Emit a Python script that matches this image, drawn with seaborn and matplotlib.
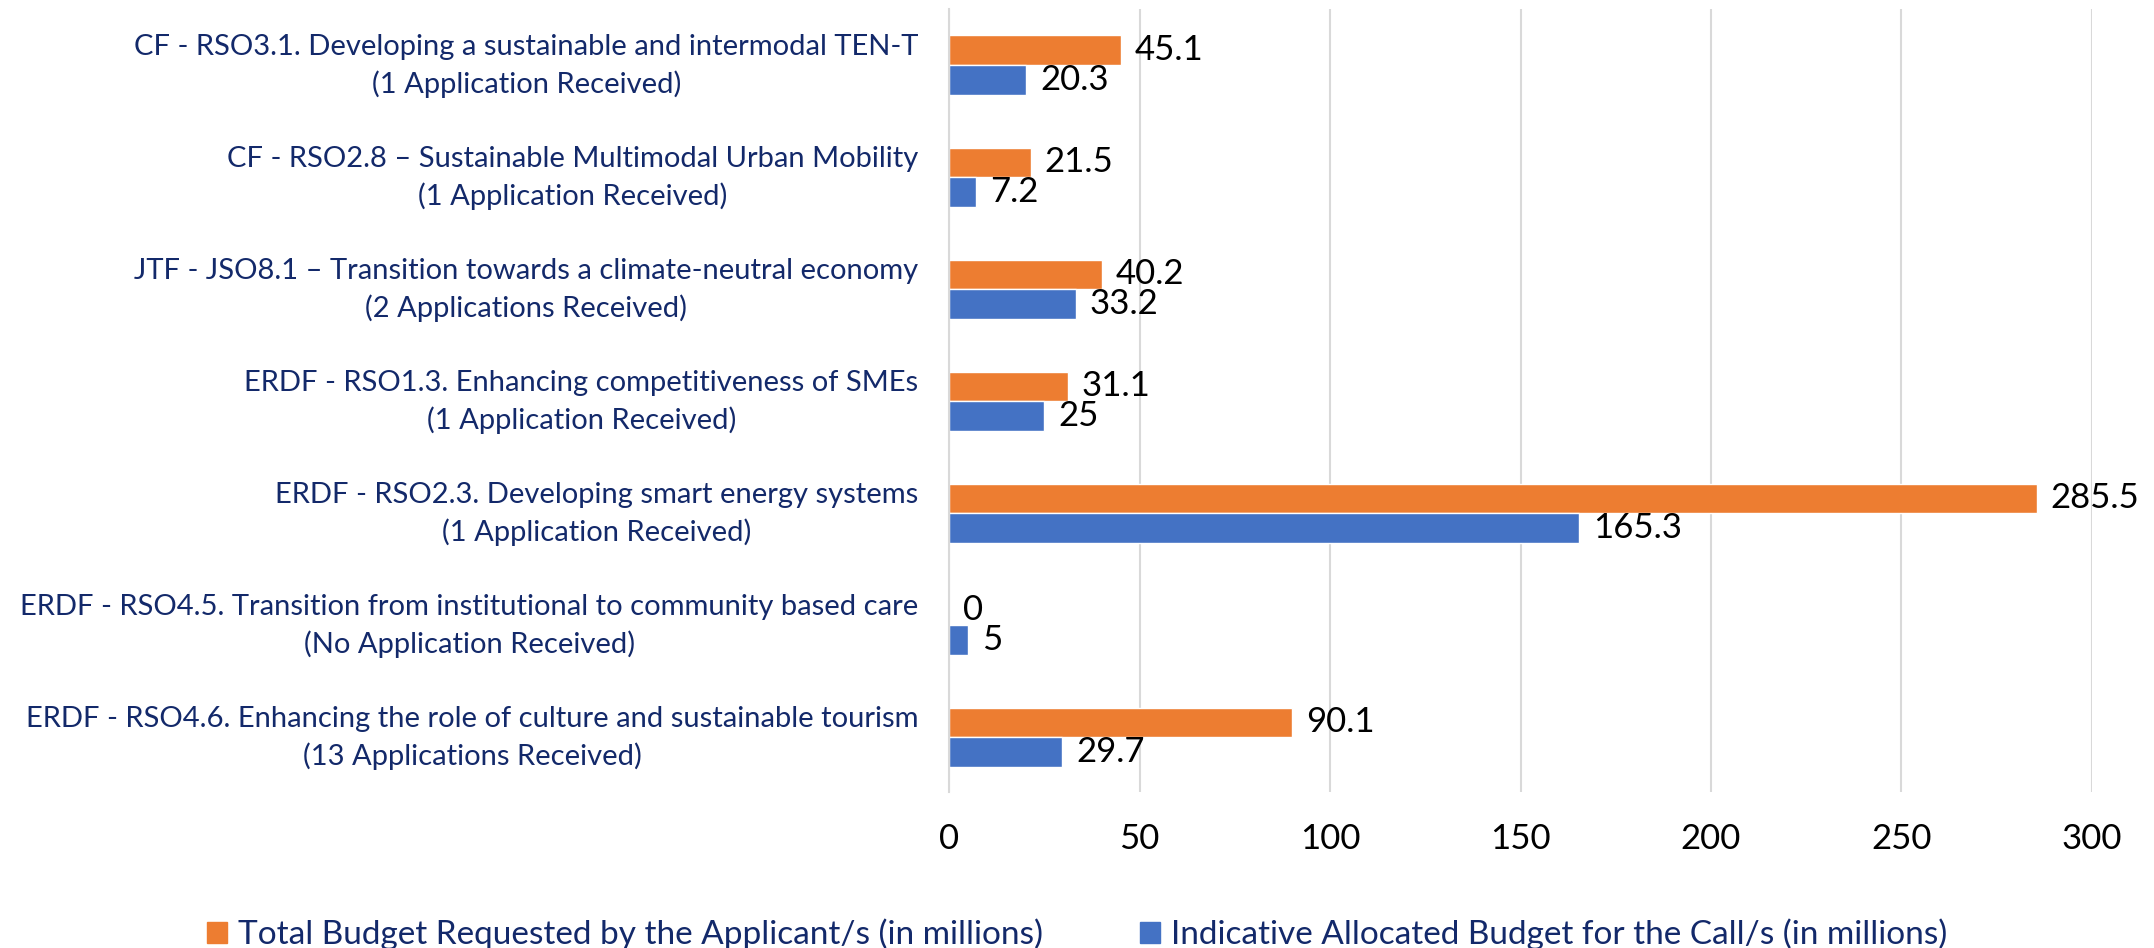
import pandas as pd
import numpy as np
import matplotlib.pyplot as plt
import matplotlib.transforms as mtransforms
import seaborn as sns

# -----------------------------
# Data
# -----------------------------
categories = [
    "CF - RSO3.1. Developing a sustainable and intermodal TEN-T\n(1 Application Received)",
    "CF - RSO2.8 \u2013 Sustainable Multimodal Urban Mobility\n(1 Application Received)",
    "JTF - JSO8.1 \u2013 Transition towards a climate-neutral economy\n(2 Applications Received)",
    "ERDF - RSO1.3. Enhancing competitiveness of SMEs\n(1 Application Received)",
    "ERDF - RSO2.3. Developing smart energy systems\n(1 Application Received)",
    "ERDF - RSO4.5. Transition from institutional to community based care\n(No Application Received)",
    "ERDF - RSO4.6. Enhancing the role of culture and sustainable tourism\n(13 Applications Received)",
]
requested = [45.1, 21.5, 40.2, 31.1, 285.5, 0, 90.1]
allocated = [20.3, 7.2, 33.2, 25, 165.3, 5, 29.7]

series_names = [
    "Total Budget Requested by the Applicant/s (in millions)",
    "Indicative Allocated Budget for the Call/s (in millions)",
]
colors = ["#ED7D31", "#4472C4"]

df = pd.DataFrame({
    "Category": categories * 2,
    "Value": requested + allocated,
    "Series": [series_names[0]] * len(categories) + [series_names[1]] * len(categories),
})

# -----------------------------
# Plot
# -----------------------------
sns.set_style("white")
plt.rcParams["font.family"] = ["Lato", "DejaVu Sans"]

label_color = "#13296A"

fig = plt.figure(figsize=(21.54, 9.48), dpi=100)
# plot area: x from 949px to 2092px, y from 9px to 792px
ax = fig.add_axes([0.4406, 1 - 792 / 948, 0.9712 - 0.4406, (792 - 9) / 948])

sns.barplot(data=df, y="Category", x="Value", hue="Series", hue_order=series_names,
            palette=colors, orient="h", width=0.527, saturation=1, ax=ax)

for cont in ax.containers:
    ax.bar_label(cont, labels=[f"{v:g}" for v in cont.datavalues],
                 padding=10, fontsize=25, color="black", clip_on=False)

ax.set_xlim(0, 300)
ax.set_ylim(6.49, -0.5)
ax.set_xticks(np.arange(0, 301, 50))
ax.xaxis.grid(True, color="#D9D9D9", linewidth=1.5)
ax.set_axisbelow(True)
for s in ["top", "right", "bottom"]:
    ax.spines[s].set_visible(False)
ax.spines["left"].set_color("#D9D9D9")
ax.spines["left"].set_linewidth(1.5)

ax.set_xlabel("")
ax.set_ylabel("")
ax.tick_params(axis="x", length=0, pad=22.5, labelsize=25, labelcolor="black")
ax.tick_params(axis="y", length=0, pad=22, labelsize=21, labelcolor=label_color)

# nudge the two-line category labels up a little
shift_up = mtransforms.ScaledTranslation(0, 5 / 72, fig.dpi_scale_trans)
for tick in ax.yaxis.get_major_ticks():
    tick.label1.set_multialignment("center")
    tick.label1.set_linespacing(1.45)
    tick.label1.set_transform(tick.label1.get_transform() + shift_up)

ax.get_legend().remove()
handles = [plt.Rectangle((0, 0), 1, 1, color=c) for c in colors]
fig.legend(handles, series_names, loc="lower center", bbox_to_anchor=(0.5, -0.034),
           ncol=2, frameon=False, fontsize=24, labelcolor=label_color,
           handlelength=0.6, handleheight=0.6, handletextpad=0.33, columnspacing=2.9)

fig.savefig("out.png", dpi=100)
